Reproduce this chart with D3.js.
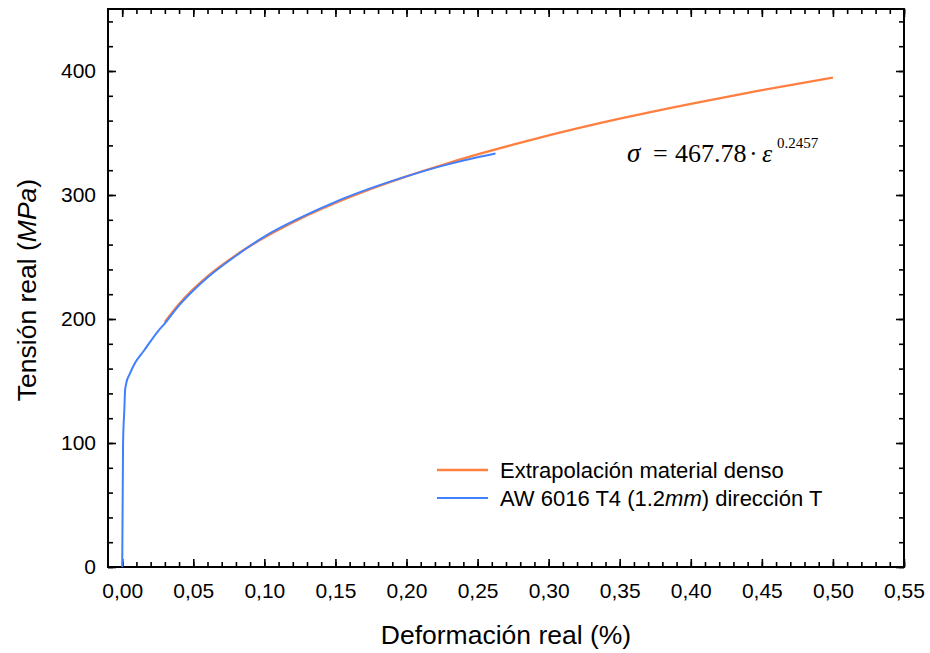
<!DOCTYPE html>
<html>
<head>
<meta charset="utf-8">
<script src="https://cdn.jsdelivr.net/npm/d3@7/dist/d3.min.js"></script>
<style>
  html, body { margin: 0; padding: 0; background: #fff; }
  svg { display: block; }
  text { fill: #000; }
</style>
</head>
<body>
<svg id="chart" width="930" height="653"></svg>
<script>
// ---- data ----
const xTickValues = [0, 0.05, 0.10, 0.15, 0.20, 0.25, 0.30, 0.35, 0.40, 0.45, 0.50, 0.55];
const yTickValues = [0, 100, 200, 300, 400];

const orangeStrain = [0.03, 0.04, 0.05, 0.06, 0.08, 0.10, 0.125, 0.15, 0.175, 0.20, 0.225, 0.25, 0.275, 0.30, 0.35, 0.40, 0.45, 0.50];
const orangeStress = [197.6, 212.1, 224.1, 234.4, 251.5, 265.7, 280.7, 293.5, 304.8, 315.0, 324.2, 332.7, 340.6, 348.0, 361.5, 373.5, 384.5, 394.6];

const blueStrain = [0, 0.0006, 0.0015, 0.002, 0.003, 0.005, 0.009, 0.015, 0.0254, 0.03, 0.04, 0.05, 0.06, 0.08, 0.10, 0.125, 0.15, 0.175, 0.20, 0.225, 0.25, 0.2626];
const blueStress = [0, 100, 127, 142, 149, 155, 164.5, 174, 190.5, 196.5, 211, 223, 233.5, 251, 266.5, 281.5, 294.5, 305.5, 315, 323.5, 330.5, 333.5];

const seriesNames = ["Extrapolación material denso", "AW 6016 T4 (1.2mm) dirección T"];
const seriesColors = ["#ff7f40", "#4080ff"];

// ---- layout ----
const sans = "'Liberation Sans', Arial, sans-serif";
const serif = "'Liberation Serif', 'Times New Roman', serif";
const svg = d3.select("#chart").style("font-family", sans);
const L = 108, R = 904, T = 9, B = 567;

const x = d3.scaleLinear().domain([-0.01, 0.55]).range([L, R]);
const y = d3.scaleLinear().domain([0, 450]).range([B, T]);

const fmtX = d3.format(".2f");
const xFmt = d => fmtX(d).replace(".", ",");

const minorX = d3.range(0, 56).map(i => i / 100);
const minorY = d3.range(0, 450, 20);

function styleAxis(g) {
  g.select(".domain").remove();
  g.selectAll(".tick line").attr("stroke", "#000").attr("stroke-width", 1.6);
}

// minor ticks
svg.append("g").attr("transform", `translate(0,${B})`)
  .call(d3.axisBottom(x).tickValues(minorX).tickSize(-5).tickFormat(""))
  .call(styleAxis);
svg.append("g").attr("transform", `translate(0,${T})`)
  .call(d3.axisTop(x).tickValues(minorX).tickSize(-5).tickFormat(""))
  .call(styleAxis);
svg.append("g").attr("transform", `translate(${L},0)`)
  .call(d3.axisLeft(y).tickValues(minorY).tickSize(-5).tickFormat(""))
  .call(styleAxis);
svg.append("g").attr("transform", `translate(${R},0)`)
  .call(d3.axisRight(y).tickValues(minorY).tickSize(-5).tickFormat(""))
  .call(styleAxis);

// major ticks
const xb = svg.append("g").attr("transform", `translate(0,${B})`)
  .call(d3.axisBottom(x).tickValues(xTickValues).tickSize(-8).tickPadding(16).tickFormat(xFmt))
  .call(styleAxis);
xb.selectAll("text").style("font-size", "21px").style("font-family", sans).attr("fill", "#000");
svg.append("g").attr("transform", `translate(0,${T})`)
  .call(d3.axisTop(x).tickValues(xTickValues).tickSize(-8).tickFormat(""))
  .call(styleAxis);
const yl = svg.append("g").attr("transform", `translate(${L},0)`)
  .call(d3.axisLeft(y).tickValues(yTickValues).tickSize(-8).tickPadding(12).tickFormat(d3.format("d")))
  .call(styleAxis);
yl.selectAll("text").style("font-size", "21px").style("font-family", sans).attr("fill", "#000");
svg.append("g").attr("transform", `translate(${R},0)`)
  .call(d3.axisRight(y).tickValues(yTickValues).tickSize(-8).tickFormat(""))
  .call(styleAxis);

// frame
svg.append("rect").attr("x", L).attr("y", T).attr("width", R - L).attr("height", B - T)
  .attr("fill", "none").attr("stroke", "#000").attr("stroke-width", 2);

// curves
const line = d3.line().x(d => x(d[0])).y(d => y(d[1])).curve(d3.curveMonotoneX);
const orangeData = orangeStrain.map((e, i) => [e, orangeStress[i]]);
const blueData = blueStrain.map((e, i) => [e, blueStress[i]]);

svg.append("path").datum(orangeData).attr("d", line)
  .attr("fill", "none").attr("stroke", seriesColors[0]).attr("stroke-width", 2.3);
svg.append("path").datum(blueData).attr("d", line)
  .attr("fill", "none").attr("stroke", seriesColors[1]).attr("stroke-width", 2);

// axis titles
svg.append("text").attr("x", 506).attr("y", 644).attr("text-anchor", "middle")
  .style("font-size", "26.5px").text("Deformación real (%)");
const yt = svg.append("text").attr("transform", "translate(36,290) rotate(-90)")
  .attr("text-anchor", "middle").style("font-size", "26.5px");
yt.append("tspan").text("Tensión real (");
yt.append("tspan").style("font-style", "italic").text("MPa");
yt.append("tspan").text(")");

// legend
const legY = [470, 498];
legY.forEach((ly, i) => {
  svg.append("line").attr("x1", 437).attr("x2", 488).attr("y1", ly).attr("y2", ly)
    .attr("stroke", seriesColors[i]).attr("stroke-width", i === 0 ? 2.3 : 2);
});
svg.append("text").attr("x", 500).attr("y", 478).style("font-size", "22px").text(seriesNames[0]);
const l2 = svg.append("text").attr("x", 500).attr("y", 506).style("font-size", "22px");
l2.append("tspan").text("AW 6016 T4 (1.2");
l2.append("tspan").style("font-style", "italic").text("mm");
l2.append("tspan").text(") dirección T");

// equation
const eq = svg.append("g").style("font-family", serif);
eq.append("text").attr("x", 627).attr("y", 162).style("font-size", "27px").style("font-style", "italic").text("σ");
eq.append("text").attr("x", 653).attr("y", 162).style("font-size", "26px").text("=");
eq.append("text").attr("x", 675).attr("y", 162).style("font-size", "26px").text("467.78");
eq.append("text").attr("x", 749).attr("y", 162).style("font-size", "26px").text("·");
eq.append("text").attr("x", 762).attr("y", 162).style("font-size", "26px").style("font-style", "italic").text("ε");
eq.append("text").attr("x", 777).attr("y", 148).style("font-size", "15px").text("0.2457");
</script>
</body>
</html>
